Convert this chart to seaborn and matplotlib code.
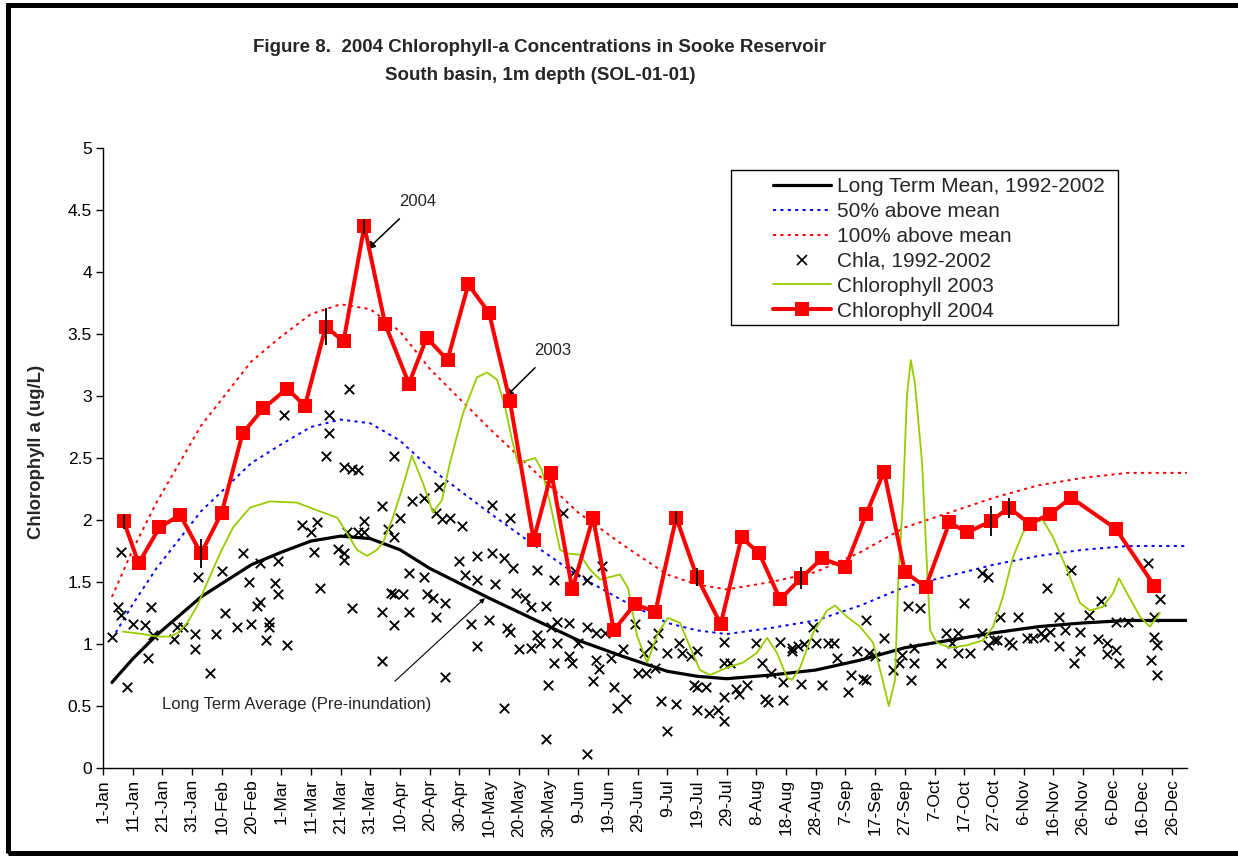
import numpy as np
import pandas as pd
import matplotlib
matplotlib.use("Agg")
import matplotlib.pyplot as plt
import seaborn as sns
from matplotlib.lines import Line2D
from matplotlib.patches import Rectangle

# ---------------- data (day of year offset from 1-Jan, value in ug/L) ----------------
mean_day = [3, 10, 18, 33, 50, 60, 70, 80, 90, 100, 110, 120, 130, 145, 160, 175, 190,
            200, 210, 225, 240, 255, 270, 285, 300, 315, 330, 345, 365]
mean_val = [0.69, 0.88, 1.07, 1.38, 1.64, 1.74, 1.83, 1.87, 1.85, 1.76, 1.61, 1.49, 1.37,
            1.20, 1.03, 0.90, 0.78, 0.74, 0.72, 0.75, 0.79, 0.87, 0.97, 1.03, 1.09, 1.14,
            1.17, 1.19, 1.19]
above50_val = [1.04, 1.32, 1.61, 2.07, 2.46, 2.61, 2.75, 2.81, 2.78, 2.64, 2.42, 2.24, 2.06,
               1.80, 1.55, 1.35, 1.17, 1.11, 1.08, 1.13, 1.19, 1.31, 1.46, 1.55, 1.64, 1.71,
               1.76, 1.79, 1.79]
above100_val = [1.38, 1.76, 2.14, 2.76, 3.28, 3.48, 3.66, 3.74, 3.70, 3.52, 3.22, 2.98, 2.74,
                2.40, 2.06, 1.80, 1.56, 1.48, 1.44, 1.50, 1.58, 1.74, 1.94, 2.06, 2.18, 2.28,
                2.34, 2.38, 2.38]

chla_day = [6, 5, 6, 10, 14, 16, 3, 8, 15, 17, 24, 25, 27, 31, 31, 32, 36, 38, 40, 41,
            45, 47, 49, 50, 52, 53, 53, 55, 56, 56, 58, 59, 59, 62, 67, 70, 72, 71, 73, 79,
            81, 81, 82, 84, 86, 88, 88, 94, 94, 94, 96, 97, 98, 98, 98, 100, 101, 103, 103, 104,
            108, 108, 109, 111, 112, 113, 112, 114, 115, 115, 117, 121, 120, 122, 126, 126, 124, 126, 130,
            131, 137, 131, 135, 138, 132, 139, 142, 144, 146, 149, 152, 155, 159, 163, 168,
            136, 137, 140, 144, 146, 147, 151, 153, 152, 150, 149, 135, 153, 157, 157, 158, 160, 163, 166, 166,
            167, 165, 163, 169, 171, 172, 173, 175, 176, 179, 180, 182, 183, 185, 186, 187, 188, 190, 190, 193,
            194, 195, 198, 200, 199, 200, 200, 203, 204, 207, 209, 209, 209, 209, 211, 213, 214, 217, 220, 222,
            223, 224, 225, 228, 229, 229, 232, 232, 234, 235, 236, 239, 240, 242, 244, 246, 247, 251,
            252, 254, 256, 257, 257, 258, 260, 263, 266, 268, 269, 271, 272, 273, 273, 275, 282, 284, 286, 288,
            288, 290, 292, 296, 298, 300, 301, 302, 296, 298, 305, 306, 308, 311, 313, 316, 317, 319, 322, 322,
            318, 324, 326, 327, 329, 329, 332, 335, 336, 338, 338, 341, 341, 342, 345, 352, 353, 354, 354, 355,
            355, 356,
            61, 76, 83, 76, 75, 98, 81, 84, 86]
chla_val = [1.74, 1.30, 1.23, 1.16, 1.15, 1.30, 1.06, 0.65, 0.89, 1.07, 1.04, 1.14, 1.14, 1.08, 0.96, 1.54, 0.77, 1.08, 1.59, 1.25,
            1.14, 1.73, 1.50, 1.16, 1.31, 1.34, 1.65, 1.03, 1.14, 1.18, 1.49, 1.40, 1.67, 0.99, 1.96, 1.90, 1.98, 1.74, 1.45, 1.77,
            1.73, 1.68, 1.90, 1.29, 1.90, 1.90, 1.99, 2.11, 1.26, 0.86, 1.93, 1.41, 1.40, 1.86, 1.15, 2.02, 1.40, 1.57, 1.26, 2.15,
            2.18, 1.54, 1.40, 1.37, 1.22, 2.27, 2.06, 2.01, 1.33, 0.73, 2.02, 1.95, 1.67, 1.56, 1.52, 1.71, 1.16, 0.98, 1.19,
            2.12, 2.02, 1.73, 1.69, 1.61, 1.48, 1.41, 1.37, 1.30, 1.60, 1.31, 1.52, 2.06, 1.59, 1.52, 1.63,
            1.13, 1.10, 0.96, 0.97, 1.07, 1.01, 1.14, 1.01, 0.85, 0.67, 0.23, 0.48, 1.18, 1.17, 0.90, 0.85, 1.01, 1.14, 1.09, 0.87,
            0.80, 0.70, 0.11, 1.09, 0.89, 0.65, 0.48, 0.96, 0.56, 1.16, 0.77, 0.93, 0.77, 0.99, 0.81, 1.09, 0.54, 0.93, 0.30, 0.52,
            1.01, 0.93, 0.90, 0.94, 0.67, 0.65, 0.47, 0.65, 0.44, 0.47, 0.38, 1.02, 0.57, 0.85, 0.85, 0.64, 0.60, 0.67, 1.01, 0.85,
            0.56, 0.53, 0.77, 1.02, 0.55, 0.69, 0.97, 0.94, 0.98, 0.68, 1.00, 1.14, 1.01, 0.67, 1.01, 1.01, 0.89, 0.61,
            0.75, 0.94, 0.72, 1.19, 0.71, 0.93, 0.90, 1.05, 0.79, 0.85, 0.91, 1.31, 0.71, 0.85, 0.97, 1.29, 0.85, 1.09, 1.01, 0.93,
            1.09, 1.33, 0.93, 1.09, 0.99, 1.03, 1.03, 1.22, 1.57, 1.54, 1.02, 0.99, 1.22, 1.05, 1.05, 1.09, 1.06, 1.10, 1.22, 0.98,
            1.45, 1.11, 1.60, 0.85, 0.94, 1.10, 1.23, 1.04, 1.35, 1.01, 0.92, 1.18, 0.95, 0.85, 1.18, 1.65, 0.87, 1.22, 1.06, 0.99,
            0.75, 1.36,
            2.85, 2.85, 3.06, 2.70, 2.52, 2.52, 2.43, 2.41, 2.40]

chl03_day = [6.7, 13.5, 18.2, 22.6, 25.3, 28.3, 31.6, 35.0, 39.4, 43.8,
             49.5, 56.2, 65.3, 74.1, 78.8, 81.5, 85.5, 88.9, 92.3, 94.3,
             97.3, 100.7, 104.0, 107.7, 111.1, 114.1, 116.8, 121.2, 125.9, 129.3,
             132.7, 135.4, 137.7, 139.7, 142.8, 145.5, 147.8, 150.5, 153.9, 156.2,
             160.6, 164.0, 167.3, 170.7, 174.1, 176.8, 179.8, 183.2, 186.9, 190.2,
             194.3, 197.6, 201.0, 204.4, 210.1, 215.5, 220.2, 223.6, 226.9, 230.3,
             232.0, 234.7, 239.1, 243.8, 246.5, 250.5, 254.9, 259.3, 262.3, 264.6,
             266.7, 267.7, 269.4, 270.7, 272.0, 273.4, 275.8, 277.4, 278.5, 280.8,
             285.2, 290.9, 296.3, 299.7, 303.0, 306.4, 309.8, 313.1, 316.5, 319.9,
             324.6, 329.0, 332.3, 336.7, 340.1, 342.1, 344.8, 349.2, 352.5, 355.9]
chl03_val = [1.10, 1.08, 1.06, 1.06, 1.09, 1.17, 1.30, 1.49, 1.73, 1.94,
             2.10, 2.15, 2.14, 2.06, 2.02, 1.92, 1.76, 1.71, 1.76, 1.82,
             2.00, 2.25, 2.52, 2.30, 2.06, 2.16, 2.46, 2.86, 3.15, 3.19,
             3.13, 2.91, 2.65, 2.46, 2.48, 2.50, 2.40, 2.14, 1.76, 1.73,
             1.72, 1.60, 1.52, 1.54, 1.56, 1.45, 1.07, 0.85, 1.09, 1.21,
             1.17, 0.98, 0.79, 0.75, 0.81, 0.85, 0.93, 1.05, 0.93, 0.73,
             0.71, 0.81, 1.09, 1.27, 1.31, 1.22, 1.14, 1.01, 0.73, 0.50,
             0.71, 1.46, 2.19, 3.00, 3.29, 3.10, 2.46, 1.65, 1.11, 1.01,
             0.97, 0.99, 1.03, 1.14, 1.38, 1.70, 1.90, 1.98, 2.00, 1.86,
             1.60, 1.33, 1.27, 1.30, 1.41, 1.53, 1.41, 1.22, 1.14, 1.25]

chl04_day = [7, 12, 19, 26, 33, 40, 47, 54, 62, 68, 75, 81, 88, 95, 103, 109, 116, 123, 130, 137,
             145, 151, 158, 165, 172, 179, 186, 193, 200, 208, 215, 221, 228, 235, 242, 250, 257, 263, 270, 277,
             285, 291, 299, 305, 312, 319, 326, 341, 354]
chl04_val = [1.99, 1.65, 1.94, 2.04, 1.73, 2.06, 2.70, 2.90, 3.06, 2.92, 3.56, 3.44, 4.37, 3.58, 3.10, 3.47, 3.29, 3.90, 3.67, 2.96,
             1.84, 2.38, 1.44, 2.02, 1.11, 1.32, 1.26, 2.02, 1.54, 1.16, 1.86, 1.73, 1.36, 1.53, 1.69, 1.62, 2.05, 2.39, 1.58, 1.46,
             1.98, 1.90, 1.99, 2.10, 1.97, 2.05, 2.18, 1.93, 1.47]
chl04_err = [0.06, 0, 0, 0, 0.12, 0, 0, 0, 0, 0, 0.15, 0, 0.06, 0, 0, 0, 0, 0, 0, 0,
             0, 0, 0, 0, 0, 0, 0, 0.05, 0.07, 0, 0, 0, 0, 0.09, 0, 0, 0, 0, 0, 0,
             0, 0, 0.12, 0.08, 0, 0, 0, 0, 0]

tick_labels = ["1-Jan", "11-Jan", "21-Jan", "31-Jan", "10-Feb", "20-Feb", "1-Mar", "11-Mar",
               "21-Mar", "31-Mar", "10-Apr", "20-Apr", "30-Apr", "10-May", "20-May", "30-May",
               "9-Jun", "19-Jun", "29-Jun", "9-Jul", "19-Jul", "29-Jul", "8-Aug", "18-Aug",
               "28-Aug", "7-Sep", "17-Sep", "27-Sep", "7-Oct", "17-Oct", "27-Oct", "6-Nov",
               "16-Nov", "26-Nov", "6-Dec", "16-Dec", "26-Dec"]
ytick_labels = ["0", "0.5", "1", "1.5", "2", "2.5", "3", "3.5", "4", "4.5", "5"]

legend_labels = ["Long Term Mean, 1992-2002", "50% above mean", "100% above mean",
                 "Chla, 1992-2002", "Chlorophyll 2003", "Chlorophyll 2004"]

# ---------------- styling ----------------
sns.set_theme(style="white")
plt.rcParams["font.family"] = ["Liberation Sans", "DejaVu Sans"]

W, H = 1238, 856
fig = plt.figure(figsize=(W / 100, H / 100), dpi=100)
fig.patch.set_facecolor("white")
ax = fig.add_axes([103 / W, 88 / H, 1084 / W, 620 / H])
ax.set_facecolor("white")

GREEN = "#99CC00"
DOT = (0, (1.6, 2.2))

sns.lineplot(x=mean_day, y=mean_val, ax=ax, color="black", linewidth=2.3,
             sort=False, estimator=None, zorder=3)
sns.lineplot(x=mean_day, y=above50_val, ax=ax, color="#0000FF", linewidth=1.4,
             linestyle=DOT, sort=False, estimator=None, zorder=2)
sns.lineplot(x=mean_day, y=above100_val, ax=ax, color="#FF0000", linewidth=1.4,
             linestyle=DOT, sort=False, estimator=None, zorder=2)
sns.scatterplot(x=chla_day, y=chla_val, ax=ax, marker="x", color="black", s=46,
                linewidth=1.35, zorder=4)
sns.lineplot(x=chl03_day, y=chl03_val, ax=ax, color=GREEN, linewidth=1.3,
             sort=False, estimator=None, zorder=5)
sns.lineplot(x=chl04_day, y=chl04_val, ax=ax, color="#FF0000", linewidth=2.9,
             marker="s", markersize=9.5, markeredgecolor="#FF0000", markeredgewidth=0,
             sort=False, estimator=None, zorder=6)

err = np.array(chl04_err)
mask = err > 0
ax.errorbar(np.array(chl04_day)[mask], np.array(chl04_val)[mask], yerr=err[mask],
            fmt="none", ecolor="black", elinewidth=1.3, capsize=0, zorder=7)

# axes
ax.set_xlim(0, 365)
ax.set_ylim(0, 5)
ax.set_xticks(np.arange(0, 361, 10))
ax.set_xticklabels(tick_labels, rotation=90, fontsize=12.5)
ax.set_yticks(np.arange(0, 5.01, 0.5))
ax.set_yticklabels(ytick_labels, fontsize=12.5)
ax.tick_params(axis="both", direction="out", length=5, width=1, color="black",
               labelcolor="black", pad=3)
ax.tick_params(axis="both", which="both", bottom=True, left=True)
for s in ["top", "right"]:
    ax.spines[s].set_visible(False)
for s in ["left", "bottom"]:
    ax.spines[s].set_color("black")
    ax.spines[s].set_linewidth(1.0)
ax.grid(False)
ax.set_xlabel("")
ax.set_ylabel("Chlorophyll a (ug/L)", fontsize=13.3, fontweight="bold", va="center")
ax.yaxis.set_label_coords(-0.0609, 0.51)

# annotations
ax.annotate("2004", xy=(88.9, 4.18), xytext=(106, 4.57), fontsize=12, ha="center", va="center",
            arrowprops=dict(arrowstyle="-|>", color="black", lw=1.1, mutation_scale=12,
                            shrinkA=7, shrinkB=0))
ax.annotate("2003", xy=(135.4, 2.99), xytext=(151.5, 3.37), fontsize=12, ha="center", va="center",
            arrowprops=dict(arrowstyle="-|>", color="black", lw=1.1, mutation_scale=12,
                            shrinkA=7, shrinkB=0))
ax.annotate("", xy=(128.6, 1.37), xytext=(98.3, 0.70),
            arrowprops=dict(arrowstyle="-|>", color="black", lw=0.8, mutation_scale=7,
                            shrinkA=0, shrinkB=0))
ax.text(65.3, 0.51, "Long Term Average (Pre-inundation)", fontsize=12, ha="center", va="center")

# title
fig.text(540 / W, 1 - 47 / H, "Figure 8.  2004 Chlorophyll-a Concentrations in Sooke Reservoir",
         ha="center", va="center", fontsize=13.5, fontweight="bold")
fig.text(540 / W, 1 - 76 / H, "South basin, 1m depth (SOL-01-01)",
         ha="center", va="center", fontsize=13.5, fontweight="bold")

# legend
handles = [
    Line2D([], [], color="black", lw=2.3),
    Line2D([], [], color="#0000FF", lw=1.4, ls=DOT),
    Line2D([], [], color="#FF0000", lw=1.4, ls=DOT),
    Line2D([], [], color="black", marker="x", ls="none", markersize=6.5, mew=1.2),
    Line2D([], [], color=GREEN, lw=1.3),
    Line2D([], [], color="#FF0000", lw=2.9, marker="s", markersize=9.5, mew=0),
]
leg = fig.legend(handles, legend_labels, loc="upper left",
                 bbox_to_anchor=(763 / W, 1 - 167 / H), bbox_transform=fig.transFigure,
                 frameon=False, fontsize=15.0, handlelength=2.75, handletextpad=0.3,
                 borderpad=0, labelspacing=0.28, numpoints=1)
fig.add_artist(Rectangle((731 / W, 1 - 325 / H), (1118 - 731) / W, (325 - 170) / H,
                         transform=fig.transFigure, fill=False, ec="black", lw=1.0))

# outer frame (left, top, bottom visible)
fig.add_artist(Rectangle((7.5 / W, 3.5 / H), 1.2, (852.5 - 4.5) / H,
                         transform=fig.transFigure, fill=False, ec="black", lw=3.6,
                         clip_on=False))

fig.savefig("out.png", dpi=100, facecolor="white")
